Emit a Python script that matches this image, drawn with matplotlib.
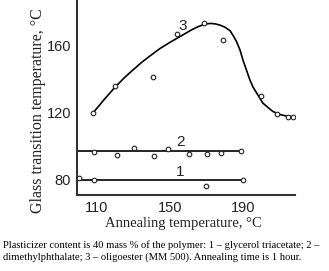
import matplotlib
matplotlib.use("Agg")
import matplotlib.pyplot as plt

# --- Data ---
# curve 3 (oligoester): drawn smooth line and measured points
curve3_x = [107.8, 113.8, 119.9, 124.8, 129.7, 134.7, 139.0, 144.5, 150.0, 155.5,
            161.0, 164.8, 168.1, 170.3, 172.5, 175.0, 177.4, 180.1, 182.9, 184.8,
            186.5, 188.4, 190.0, 191.9, 193.8, 195.5, 197.5, 200.9, 203.7, 206.4,
            210.3, 213.9, 217.4]
curve3_y = [119.7, 127.5, 135.0, 140.4, 145.2, 149.9, 153.5, 157.9, 161.6, 165.0,
            168.5, 170.6, 172.0, 172.6, 172.8, 172.5, 171.8, 170.6, 168.5, 165.3,
            162.0, 157.0, 151.1, 145.2, 139.3, 135.1, 131.6, 125.6, 123.0, 120.6,
            118.8, 117.9, 117.5]
pts3_x = [107.8, 119.9, 140.7, 153.8, 168.6, 179.2, 199.7, 208.8, 214.8, 217.6]
pts3_y = [119.7, 135.7, 141.0, 166.5, 172.9, 163.0, 130.0, 119.1, 117.5, 117.5]

# line 2 (dimethylphthalate)
line2_x = [98.9, 188.9]
line2_y = [97.2, 97.2]
pts2_x = [108.4, 121.0, 130.3, 141.2, 148.9, 160.4, 170.3, 177.9, 188.9]
pts2_y = [96.6, 94.8, 99.0, 94.2, 98.4, 95.4, 95.4, 96.0, 97.2]

# line 1 (glycerol triacetate)
line1_x = [98.9, 190.0]
line1_y = [80.0, 80.0]
pts1_x = [100.2, 108.5, 169.7, 190.0]
pts1_y = [81.0, 79.8, 76.5, 80.0]

x_ticks = [110, 150, 190]
y_ticks = [80, 120, 160]

caption = ("Plasticizer content is 40 mass % of the polymer: 1 \u2013 glycerol triacetate; 2 \u2013\n"
           "dimethylphthalate; 3 \u2013 oligoester (MM 500). Annealing time is 1 hour.")

# --- Plot ---
fig = plt.figure(figsize=(3.29, 2.71), dpi=100)
ax = fig.add_axes([0.2331, 0.2804, 0.6635, 0.7196])

mk = dict(marker='o', markersize=3.3, markerfacecolor='white', markeredgecolor='#222222',
          markeredgewidth=0.8, linestyle='none', zorder=3)

ax.plot(curve3_x, curve3_y, color='black', lw=1.2, zorder=2, solid_joinstyle='round')
ax.plot(pts3_x, pts3_y, **mk)
ax.plot(line2_x, line2_y, color='black', lw=1.2, zorder=2)
ax.plot(pts2_x, pts2_y, **mk)
ax.plot(line1_x, line1_y, color='black', lw=1.2, zorder=2)
ax.plot(pts1_x, pts1_y, **mk)

num_font = dict(family='Liberation Sans', fontsize=11, color='#222222')
ax.text(157.1, 171.3, "3", ha='center', va='center', **num_font)
ax.text(156.0, 102.5, "2", ha='center', va='center', **num_font)
ax.text(155.5, 84.7, "1", ha='center', va='center', **num_font)

ax.set_xlim(98.9, 218.5)
ax.set_ylim(71.1, 186.7)
ax.set_xticks(x_ticks)
ax.set_yticks(y_ticks)
ax.tick_params(length=0, labelsize=10.5, colors='#222222', pad=4)
for lbl in ax.get_xticklabels() + ax.get_yticklabels():
    lbl.set_family('Liberation Sans')

for side in ['top', 'right']:
    ax.spines[side].set_visible(False)
for side in ['left', 'bottom']:
    ax.spines[side].set_color('#333333')
    ax.spines[side].set_linewidth(1.5)

# axis titles in serif, placed in pixel terms
fig.text(38 / 329, 1 - 111 / 271, "Glass transition temperature, \u00b0C", rotation=90,
         ha='center', va='center', family='Liberation Serif', fontsize=11.5, color='#222222')
fig.text(105 / 329, 1 - 224 / 271, "Annealing temperature, \u00b0C", ha='left', va='center',
         family='Liberation Serif', fontsize=10.5, color='#222222')

fig.text(3 / 329, 1 - 251 / 271, caption, ha='left', va='center', family='Liberation Serif',
         fontsize=7.6, linespacing=1.3, color='black')

fig.savefig("out.png", dpi=100)
